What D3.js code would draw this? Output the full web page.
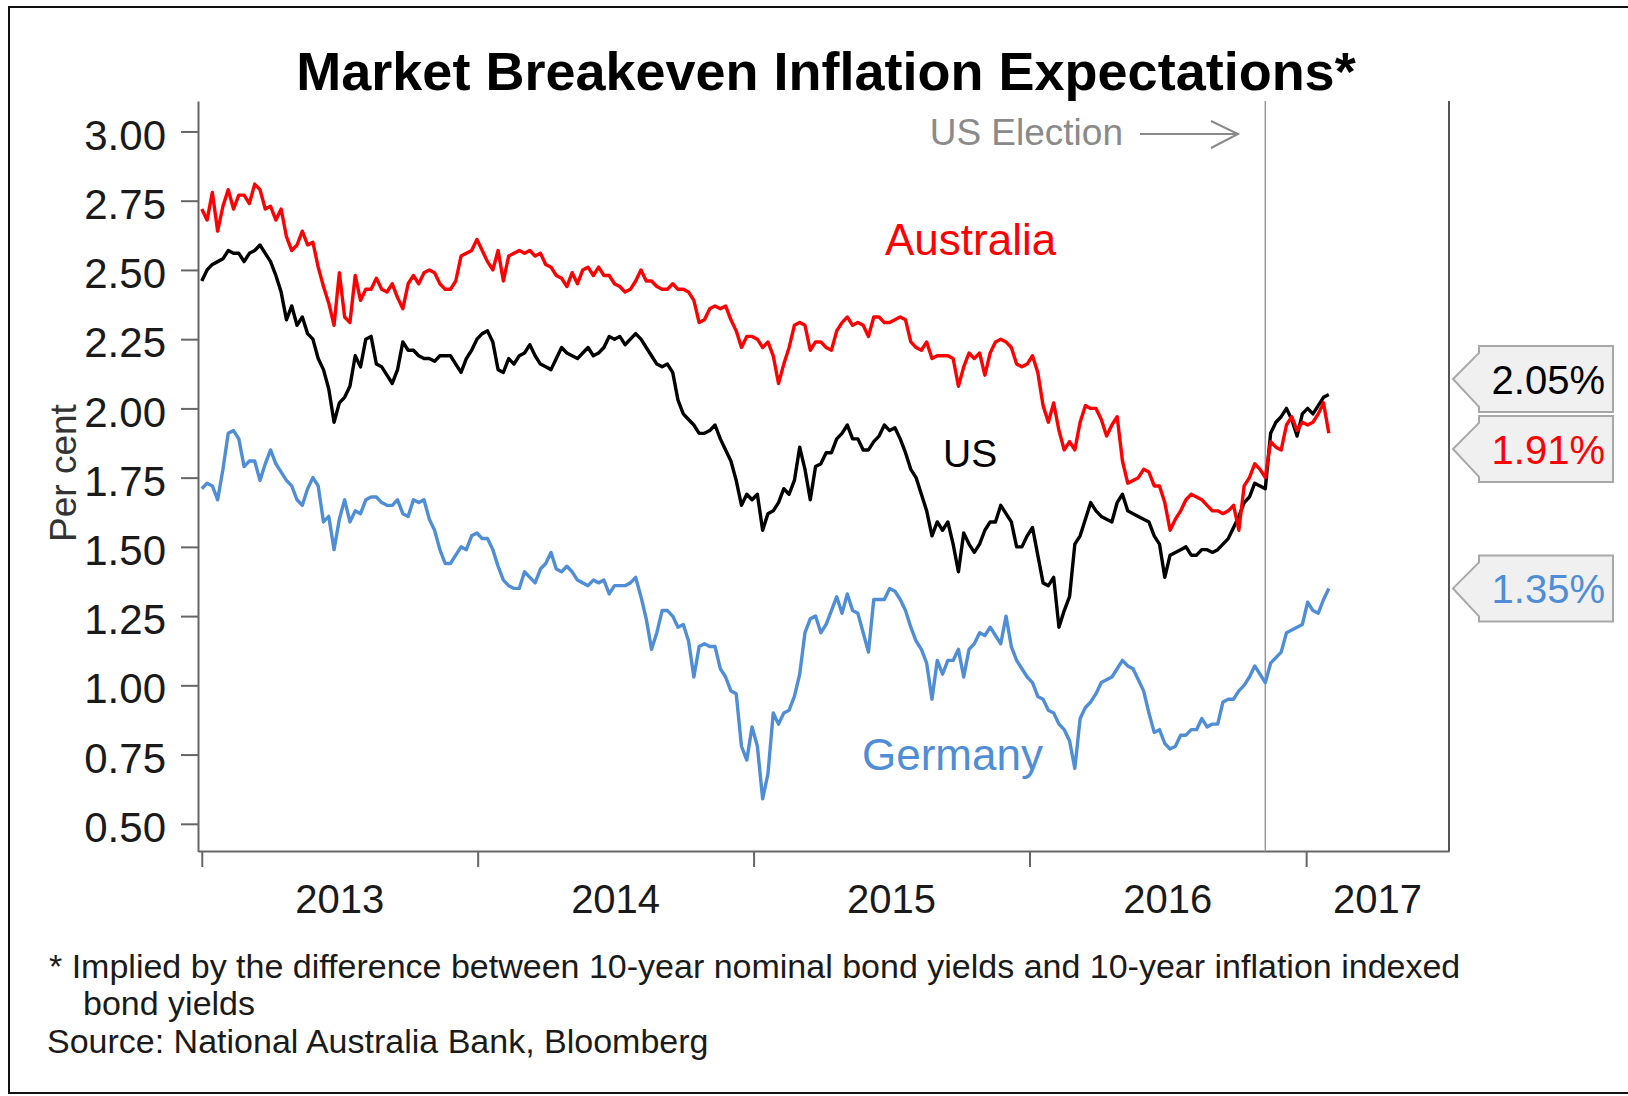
<!doctype html>
<html>
<head>
<meta charset="utf-8">
<title>Market Breakeven Inflation Expectations</title>
<script src="https://d3js.org/d3.v7.min.js"></script>
<style>
  body { margin: 0; background: #fff; }
  svg { display: block; font-family: "Liberation Sans", Arial, sans-serif; }
  .axis path, .axis line { stroke: #666; stroke-width: 2; }
  .axis text { fill: #1a1a1a; }
</style>
</head>
<body>
<script>
// weekly readings, first week starting 2013-01-01
const startDate = new Date(2013, 0, 1);

const australia = [
  2.72,2.68,2.78,2.64,2.73,2.79,2.72,2.77,2.77,2.74,
  2.81,2.79,2.72,2.73,2.68,2.72,2.62,2.57,2.59,2.64,
  2.59,2.60,2.51,2.44,2.38,2.30,2.49,2.33,2.31,2.48,
  2.39,2.43,2.43,2.47,2.43,2.42,2.45,2.40,2.36,2.45,
  2.48,2.45,2.49,2.50,2.49,2.45,2.43,2.43,2.46,2.55,
  2.56,2.57,2.61,2.57,2.53,2.50,2.57,2.46,2.55,2.56,
  2.57,2.56,2.57,2.55,2.56,2.52,2.51,2.48,2.47,2.44,
  2.49,2.45,2.50,2.51,2.48,2.51,2.48,2.48,2.45,2.44,
  2.42,2.43,2.46,2.50,2.46,2.46,2.44,2.43,2.43,2.45,
  2.43,2.43,2.42,2.39,2.31,2.32,2.36,2.37,2.36,2.37,
  2.32,2.28,2.22,2.26,2.26,2.25,2.22,2.24,2.19,2.09,
  2.16,2.22,2.30,2.31,2.30,2.21,2.24,2.24,2.22,2.21,
  2.28,2.31,2.33,2.30,2.31,2.30,2.26,2.33,2.33,2.31,
  2.31,2.32,2.33,2.32,2.24,2.22,2.21,2.24,2.18,2.19,
  2.19,2.19,2.18,2.08,2.15,2.20,2.18,2.20,2.12,2.20,
  2.24,2.25,2.24,2.22,2.16,2.15,2.16,2.19,2.13,2.01,
  1.95,2.02,1.92,1.85,1.88,1.85,1.95,2.01,2.00,2.00,
  1.96,1.90,1.94,1.97,1.81,1.73,1.74,1.75,1.78,1.77,
  1.72,1.72,1.66,1.56,1.60,1.63,1.67,1.69,1.68,1.67,
  1.65,1.63,1.63,1.62,1.63,1.65,1.56,1.72,1.75,1.80,
  1.78,1.75,1.88,1.86,1.85,1.94,1.97,1.92,1.95,1.94,
  1.95,1.98,2.02,1.91
];

const us = [
  2.46,2.50,2.52,2.53,2.54,2.57,2.56,2.56,2.53,2.56,
  2.57,2.59,2.56,2.53,2.48,2.42,2.32,2.37,2.30,2.33,
  2.27,2.25,2.18,2.14,2.07,1.95,2.02,2.04,2.08,2.19,
  2.15,2.25,2.26,2.16,2.15,2.12,2.09,2.14,2.24,2.21,
  2.21,2.19,2.18,2.18,2.17,2.19,2.19,2.19,2.16,2.13,
  2.18,2.21,2.25,2.27,2.28,2.24,2.14,2.13,2.18,2.16,
  2.19,2.20,2.23,2.19,2.16,2.15,2.14,2.18,2.22,2.20,
  2.19,2.18,2.20,2.22,2.19,2.20,2.22,2.26,2.25,2.26,
  2.23,2.25,2.27,2.25,2.22,2.19,2.16,2.15,2.16,2.13,
  2.03,1.98,1.96,1.94,1.91,1.91,1.92,1.94,1.89,1.85,
  1.81,1.74,1.65,1.69,1.67,1.69,1.56,1.62,1.63,1.66,
  1.71,1.69,1.74,1.86,1.78,1.67,1.79,1.80,1.84,1.84,
  1.89,1.91,1.94,1.89,1.89,1.85,1.85,1.88,1.90,1.94,
  1.92,1.93,1.89,1.84,1.78,1.75,1.69,1.63,1.54,1.59,
  1.56,1.59,1.51,1.41,1.55,1.51,1.48,1.51,1.56,1.59,
  1.59,1.65,1.62,1.59,1.50,1.50,1.54,1.57,1.47,1.37,
  1.36,1.39,1.21,1.27,1.32,1.51,1.54,1.60,1.66,1.63,
  1.61,1.60,1.59,1.66,1.69,1.63,1.62,1.61,1.60,1.59,
  1.54,1.51,1.39,1.47,1.48,1.49,1.50,1.47,1.47,1.49,
  1.49,1.48,1.49,1.51,1.53,1.57,1.61,1.66,1.68,1.73,
  1.72,1.71,1.91,1.95,1.97,2.00,1.96,1.90,1.98,2.00,
  1.98,2.01,2.04,2.05
];

const germany = [
  1.71,1.73,1.72,1.67,1.78,1.91,1.92,1.89,1.79,1.81,
  1.81,1.74,1.80,1.85,1.80,1.77,1.74,1.72,1.67,1.65,
  1.71,1.75,1.72,1.59,1.61,1.49,1.60,1.67,1.59,1.63,
  1.62,1.67,1.68,1.68,1.66,1.65,1.65,1.67,1.62,1.61,
  1.67,1.66,1.67,1.60,1.56,1.49,1.44,1.44,1.47,1.50,
  1.49,1.54,1.55,1.53,1.53,1.49,1.43,1.38,1.36,1.35,
  1.35,1.41,1.39,1.37,1.42,1.44,1.48,1.42,1.41,1.43,
  1.41,1.38,1.37,1.36,1.38,1.37,1.38,1.33,1.36,1.36,
  1.36,1.37,1.39,1.32,1.24,1.13,1.19,1.27,1.27,1.25,
  1.21,1.22,1.16,1.03,1.14,1.15,1.14,1.14,1.06,1.03,
  0.98,0.97,0.78,0.73,0.85,0.78,0.59,0.68,0.90,0.86,
  0.90,0.91,0.96,1.04,1.19,1.24,1.25,1.19,1.22,1.27,
  1.32,1.26,1.33,1.27,1.26,1.19,1.12,1.31,1.31,1.31,
  1.35,1.34,1.31,1.27,1.21,1.16,1.13,1.08,0.95,1.09,
  1.04,1.09,1.09,1.13,1.03,1.13,1.15,1.19,1.18,1.21,
  1.18,1.15,1.25,1.14,1.09,1.06,1.03,1.01,0.96,0.95,
  0.91,0.90,0.86,0.84,0.80,0.70,0.88,0.92,0.94,0.97,
  1.01,1.02,1.03,1.06,1.09,1.07,1.06,1.02,0.98,0.90,
  0.83,0.84,0.79,0.77,0.78,0.82,0.82,0.84,0.84,0.88,
  0.85,0.86,0.86,0.94,0.95,0.95,0.98,1.00,1.03,1.07,
  1.04,1.01,1.08,1.10,1.12,1.19,1.20,1.21,1.22,1.30,
  1.27,1.26,1.31,1.35
];

const yTicks = [0.50, 0.75, 1.00, 1.25, 1.50, 1.75, 2.00, 2.25, 2.50, 2.75, 3.00];
const yearLabels = ["2013", "2014", "2015", "2016", "2017"];
const electionDate = new Date(2016, 10, 8);

// end-of-period labels on the right
const endLabels = ["2.05%", "1.91%", "1.35%"];
const endValues = [2.05, 1.91, 1.35];
const endColors = ["#000000", "#ff0000", "#4f8ed6"];

const w = 1628, h = 1096;

const svg = d3.select("body").append("svg")
    .attr("width", w)
    .attr("height", h);

svg.append("rect").attr("width", w).attr("height", h).attr("fill", "#fff");
// frame round the picture
svg.append("rect")
    .attr("x", 9).attr("y", 7)
    .attr("width", 1660).attr("height", 1086)
    .attr("fill", "none").attr("stroke", "#111").attr("stroke-width", 2);

const xScale = d3.scaleTime()
    .domain([new Date(2012, 11, 27), new Date(2017, 6, 9)])
    .range([198, 1449]);

const yScale = d3.scaleLinear()
    .domain([0.40, 3.11])
    .range([851.5, 101]);

const weeks = australia.map((d, i) => d3.timeDay.offset(startDate, 7 * i));

// title
svg.append("text")
    .attr("x", 826).attr("y", 90)
    .attr("text-anchor", "middle")
    .style("font-weight", "bold")
    .style("font-size", "54px")
    .attr("fill", "#000")
    .text("Market Breakeven Inflation Expectations*");

// y axis
const yAxis = d3.axisLeft(yScale)
    .tickValues(yTicks)
    .tickFormat(d3.format(".2f"))
    .tickSize(17)
    .tickSizeOuter(0)
    .tickPadding(15);

svg.append("g")
    .attr("class", "axis")
    .attr("transform", "translate(198,0)")
    .call(yAxis)
    .selectAll("text")
    .attr("dy", "0.42em")
    .style("font-size", "42px");

// x axis, ticks at year starts, labels centred in each year
const yearStarts = yearLabels.map(y => new Date(+y, 0, 1));
const xAxis = d3.axisBottom(xScale)
    .tickValues(yearStarts)
    .tickFormat("")
    .tickSize(16)
    .tickSizeOuter(0);

svg.append("g")
    .attr("class", "axis")
    .attr("transform", "translate(0,851)")
    .call(xAxis);

const xEnd = xScale.domain()[1];
svg.append("g").selectAll("text")
    .data(yearLabels)
    .join("text")
    .attr("x", d => {
        const a = new Date(+d, 0, 1);
        const b = new Date(+d + 1, 0, 1);
        return (xScale(a) + xScale(b < xEnd ? b : xEnd)) / 2;
    })
    .attr("y", 913)
    .attr("text-anchor", "middle")
    .style("font-size", "40px")
    .attr("fill", "#1a1a1a")
    .text(d => d);

// right border of plot
svg.append("line")
    .attr("x1", xScale.range()[1]).attr("x2", xScale.range()[1])
    .attr("y1", yScale.range()[1]).attr("y2", yScale.range()[0])
    .attr("stroke", "#555").attr("stroke-width", 2);

// y axis title
svg.append("text")
    .attr("transform", "translate(76," + 473 + ") rotate(-90)")
    .attr("text-anchor", "middle")
    .style("font-size", "37px")
    .attr("fill", "#333")
    .text("Per cent");

// US election marker
const ex = xScale(electionDate);
svg.append("line")
    .attr("x1", ex).attr("x2", ex)
    .attr("y1", yScale.range()[1]).attr("y2", yScale.range()[0])
    .attr("stroke", "#999").attr("stroke-width", 1.5);

svg.append("text")
    .attr("x", 1123).attr("y", 145)
    .attr("text-anchor", "end")
    .style("font-size", "37px")
    .attr("fill", "#8a8a8a")
    .text("US Election");

svg.append("path")
    .attr("d", "M1140,134 L1238,134 M1211,121 L1238,134 L1211,148")
    .attr("fill", "none")
    .attr("stroke", "#8a8a8a")
    .attr("stroke-width", 2);

// lines
const line = d3.line()
    .x((d, i) => xScale(weeks[i]))
    .y(d => yScale(d));

svg.append("path").datum(us)
    .attr("d", line).attr("fill", "none")
    .attr("stroke", "#000").attr("stroke-width", 3.4)
    .attr("stroke-linejoin", "round");

svg.append("path").datum(australia)
    .attr("d", line).attr("fill", "none")
    .attr("stroke", "#ff0000").attr("stroke-width", 3.4)
    .attr("stroke-linejoin", "round");

svg.append("path").datum(germany)
    .attr("d", line).attr("fill", "none")
    .attr("stroke", "#4f8ed6").attr("stroke-width", 3.4)
    .attr("stroke-linejoin", "round");

// series names
svg.append("text").attr("x", 885).attr("y", 255)
    .style("font-size", "44px").attr("fill", "#ff0000").text("Australia");
svg.append("text").attr("x", 943).attr("y", 467)
    .style("font-size", "39px").attr("fill", "#000").text("US");
svg.append("text").attr("x", 862).attr("y", 770)
    .style("font-size", "44px").attr("fill", "#4f8ed6").text("Germany");

// end labels, pushed apart when they would overlap
const boxH = 66, gap = 70;
let cys = endValues.map(v => yScale(v));
for (let i = 1; i < cys.length; i++) {
    if (cys[i] - cys[i - 1] < gap) {
        const mid = (cys[i] + cys[i - 1]) / 2;
        cys[i - 1] = mid - gap / 2;
        cys[i] = mid + gap / 2;
    }
}

const bx = 1479, bw = 134, tipX = 1453;
endLabels.forEach((lab, i) => {
    const cy = cys[i];
    const top = cy - boxH / 2, bot = cy + boxH / 2;
    svg.append("path")
        .attr("d", `M${bx},${top} L${bx + bw},${top} L${bx + bw},${bot} L${bx},${bot} L${bx},${cy + 28} L${tipX},${cy} L${bx},${cy - 26} Z`)
        .attr("fill", "#f0f0f0")
        .attr("stroke", "#a8a8a8")
        .attr("stroke-width", 2);
    svg.append("text")
        .attr("x", 1605).attr("y", cy + 15)
        .attr("text-anchor", "end")
        .style("font-size", "40px")
        .attr("fill", endColors[i])
        .text(lab);
});

// notes
const notes = svg.append("g").style("font-size", "34px").attr("fill", "#1a1a1a");
notes.append("text").attr("x", 49).attr("y", 978)
    .text("* Implied by the difference between 10-year nominal bond yields and 10-year inflation indexed");
notes.append("text").attr("x", 83).attr("y", 1015)
    .text("bond yields");
notes.append("text").attr("x", 47).attr("y", 1053)
    .text("Source: National Australia Bank, Bloomberg");
</script>
</body>
</html>
